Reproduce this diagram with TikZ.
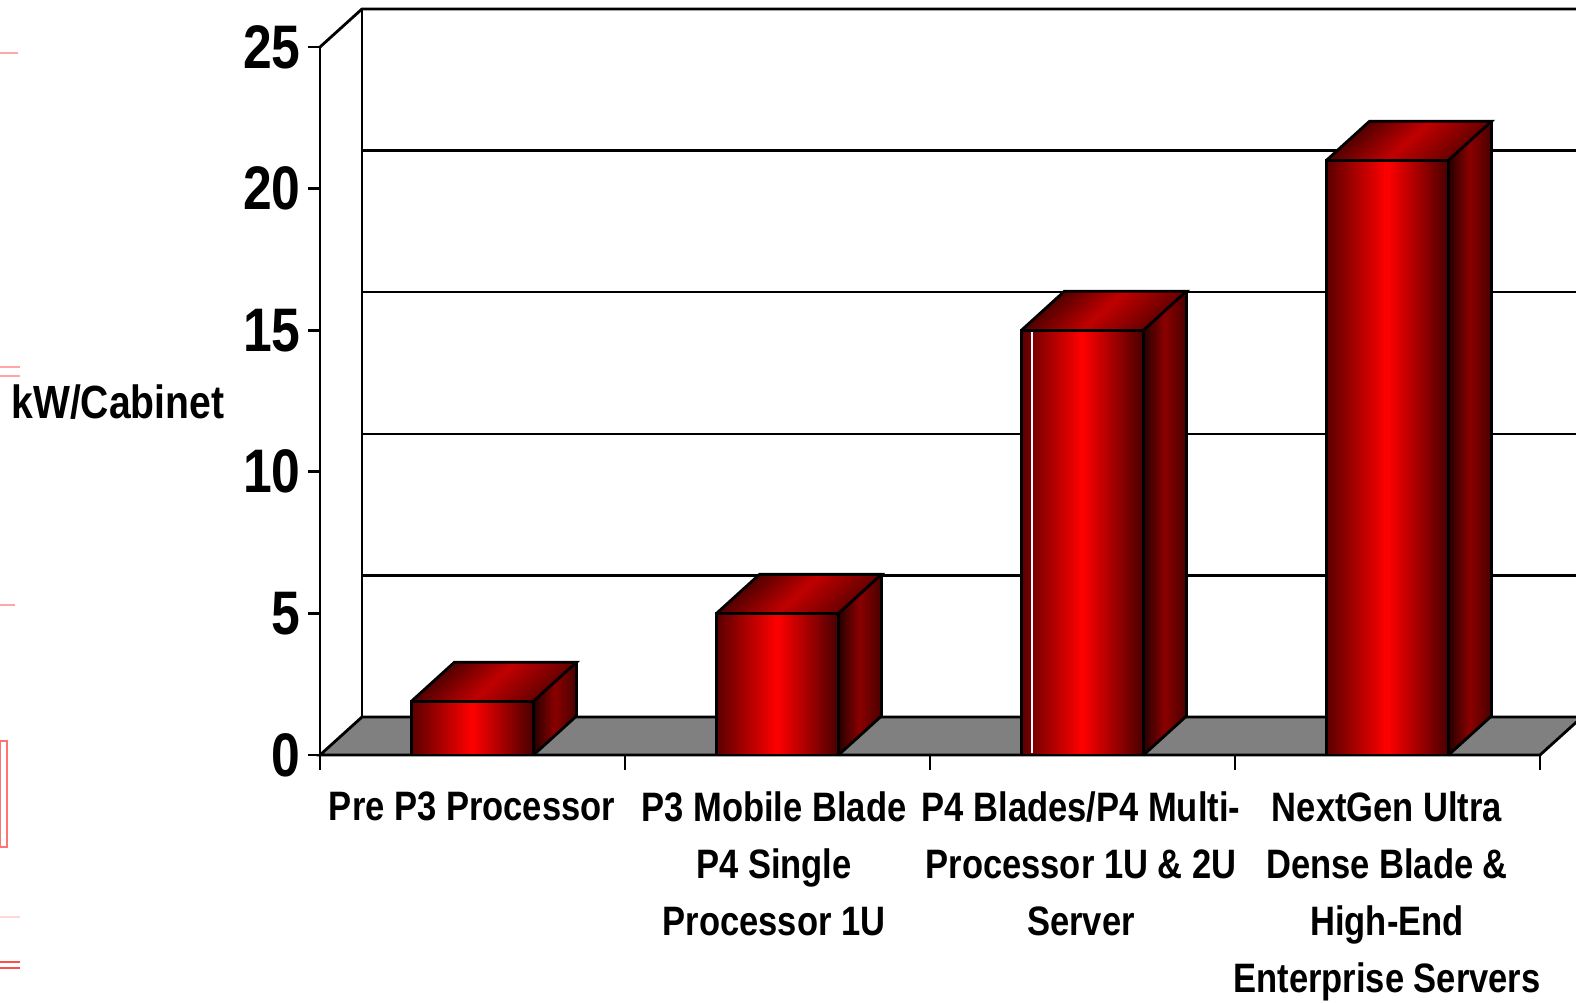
\documentclass[tikz,border=0pt]{standalone}
\usepackage{fontspec}
\setmainfont{Liberation Sans}[FakeStretch=0.84]
\usetikzlibrary{calc}

% face of a bar filled in thin strips: origin, strip direction, edge, red% at left/middle/right
\newcommand{\gradface}[9]{%
    \begin{scope}
    \clip (#1,#2) -- ++(#3,#4) -- ++(#5,#6) -- ++({-(#3)},{-(#4)}) -- cycle;
    \foreach \k in {0,...,39} {
        \pgfmathsetmacro{\gt}{(\k+0.5)/40}
        \pgfmathsetmacro{\gp}{int(\gt<0.5 ? #7+(#8-#7)*2*\gt : #8+(#9-#8)*(2*\gt-1))}
        \fill[red!\gp!black] ({#1+#3*\k/40},{#2+#4*\k/40}) -- ++(#5,#6)
            -- ++({#3*3/40},{#4*3/40}) -- ++({-(#5)},{-(#6)}) -- cycle;
    }
    \end{scope}}

\begin{document}
\begin{tikzpicture}[
    x=0.02cm, y=0.02cm,
    frame/.style={line width=1.6pt, line join=miter},
    grid/.style={line width=1.3pt},
    floor/.style={frame, fill=black!50},
    ticklabel/.style={font=\fontsize{35}{40}\selectfont\bfseries, anchor=east, inner sep=0pt},
    catlabel/.style={font=\fontsize{23.4}{32.6}\selectfont\bfseries, align=center, anchor=north, inner sep=0pt},
    ghost/.style={red!35, line width=1pt},
]
\useasboundingbox (0,0) rectangle (1576,1002);

%% FAINT MARKS ON THE LEFT EDGE
    \draw[ghost] (0,949) -- (18,949);
    \draw[ghost] (0,635) -- (20,635) (0,626) -- (20,626);
    \draw[ghost] (0,397) -- (15,397);
    \draw[ghost, red!55] (0,261) rectangle (7,155);
    \draw[ghost, red!15] (0,85) -- (20,85);
    \draw[ghost, red!70] (0,40) -- (20,40) (0,34) -- (20,34);

%% WALL AND FLOOR
    % back wall grid
    \foreach \v in {5,10,15,20}
        \draw[grid] (362,{285+28.32*\v}) -- (1580,{285+28.32*\v});
    \draw[frame] (320,955) -- (362,993) -- (1580,993);
    \draw[frame] (362,993) -- (362,285);
    % floor
    \draw[floor] (320,247) -- (1540,247) -- (1582,285) -- (362,285) -- cycle;

%% AXES
    \draw[frame] (320,955) -- (320,232);
    \foreach \v in {0,5,...,25} {
        \draw[frame] (308,{247+28.32*\v}) -- (320,{247+28.32*\v});
        \node[ticklabel] (tick\v) at (301,{247+28.32*\v}) {\v};
    }
    \foreach \k in {1,...,4}
        \draw[frame] ({320+305*\k},247) -- ({320+305*\k},232);

    \node[font=\fontsize{26.5}{30}\selectfont\bfseries, anchor=west, inner sep=0pt] (ylabel) at (11,600) {kW/Cabinet};

%% BARS
    \foreach \i/\val in {0/1.9, 1/5.0, 2/15.0, 3/21.0} {
        \pgfmathsetmacro{\xl}{411.5+305*\i}
        \pgfmathsetmacro{\xr}{\xl+122}
        \pgfmathsetmacro{\h}{28.32*\val}
        \pgfmathsetmacro{\yt}{247+\h}
        % front, top, side
        \gradface{\xl}{247}{122}{0}{0}{\h}{36}{100}{30}
        \gradface{\xl}{\yt}{122}{0}{43}{39}{32}{76}{42}
        \gradface{\xr}{247}{43}{39}{0}{\h}{15}{55}{30}
        \draw[frame] (\xl,247) rectangle (\xr,\yt);
        \draw[frame] (\xl,\yt) -- (\xl+43,\yt+39) -- (\xr+43,\yt+39) -- (\xr,\yt);
        \draw[frame] (\xr,247) -- (\xr+43,286) -- (\xr+43,\yt+39);
    }
    % thin light line inside the third bar
    \draw[white, line width=0.8pt] (1032,670) -- (1032,249);

%% CATEGORY LABELS
    \node[catlabel] (cat1) at (472,211) {Pre P3 Processor};
    \node[catlabel] (cat2) at (774,211) {P3 Mobile Blade\\P4 Single\\Processor 1U};
    \node[catlabel] (cat3) at (1081,211) {P4 Blades/P4 Multi-\\Processor 1U \& 2U\\Server};
    \node[catlabel] (cat4) at (1387,211) {NextGen Ultra\\Dense Blade \&\\High-End\\Enterprise Servers};

\end{tikzpicture}
\end{document}
